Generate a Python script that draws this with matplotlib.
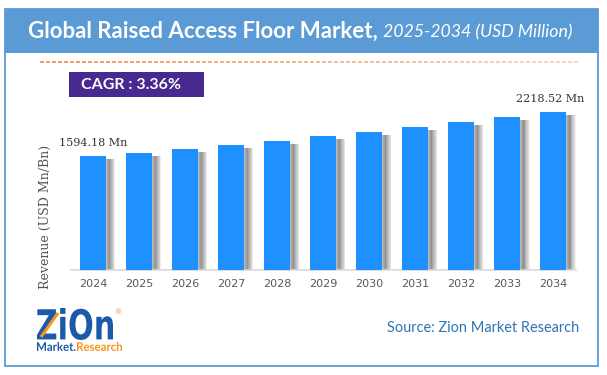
import matplotlib
matplotlib.use('Agg')
import matplotlib.pyplot as plt
from matplotlib.patches import Rectangle, PathPatch
from matplotlib.textpath import TextPath, TextToPath
from matplotlib.font_manager import FontProperties
from matplotlib.transforms import Affine2D
import numpy as np

# ---- data ----
years = ['2024', '2025', '2026', '2027', '2028', '2029', '2030', '2031', '2032', '2033', '2034']
revenue = [1594.18, 1638, 1699, 1755, 1816, 1887, 1943, 2009, 2080, 2150, 2218.52]
first_label = '1594.18 Mn'
last_label = '2218.52 Mn'
title_main = 'Global Raised Access Floor Market,'
title_sub = '2025-2034 (USD Million)'
cagr_text = 'CAGR : 3.36%'
ylabel_text = 'Revenue (USD Mn/Bn)'
source_text = 'Source: Zion Market Research'

W, H = 607, 375
fig = plt.figure(figsize=(W / 100, H / 100), dpi=100)
fig.patch.set_facecolor('white')

bg = fig.add_axes([0, 0, 1, 1], zorder=0)
bg.set_xlim(0, W)
bg.set_ylim(H, 0)
bg.axis('off')

frame_col = '#5B9BD5'
bg.add_patch(Rectangle((5, 8.5), 593, 44.5, facecolor=frame_col, edgecolor='none'))
bg.add_patch(Rectangle((5, 8.5), 593, 357, facecolor='none', edgecolor=frame_col, lw=1.3))

fig.canvas.draw()
renderer = fig.canvas.get_renderer()


def fit_width(t, width):
    bb = t.get_window_extent(renderer)
    t.set_fontsize(t.get_fontsize() * width / bb.width)
    return t


# title
t1 = bg.text(28, 31, title_main, fontsize=15, fontweight='bold', color='white',
             family='Lato', va='center', ha='left')
fit_width(t1, 379 - 28)
bb = t1.get_window_extent(renderer)
t2 = bg.text(bb.x1 + 5, 32, title_sub, fontsize=12, style='italic', color='white',
             family='Lato', va='center', ha='left')
fit_width(t2, 572 - (bb.x1 + 5))

# dashed gradient line
xs = np.arange(40, 580, 6.0)
c0 = np.array([0xED, 0x7D, 0x31]) / 255
c1 = np.array([0xF8, 0xCB, 0xAD]) / 255
for k, x0 in enumerate(xs):
    f = k / (len(xs) - 1)
    col = c0 * (1 - f) + c1 * f
    bg.plot([x0, min(x0 + 3.5, 580)], [62, 62], color=col, lw=1.1, solid_capstyle='butt')

# CAGR box
bg.add_patch(Rectangle((69, 72), 135, 25, facecolor='#48298F', edgecolor='none'))
tc = bg.text(81, 85, cagr_text, fontsize=10, fontweight='bold', color='white',
             family='Lato', va='center', ha='left')
fit_width(tc, 100)

# y label
bg.text(45, 217, ylabel_text, rotation=90, fontsize=9, color='#555555',
        family='DejaVu Serif', va='center', ha='center')

# source
ts = bg.text(579, 328, source_text, fontsize=11, color='#2E74B5', family='Lato',
             va='center', ha='right')
fit_width(ts, 579 - 387)

# logo (text drawn as paths fitted into boxes)
def boxed_text(parts, x0, y0, x1, y1, fp):
    t2p = TextToPath()
    full = ''.join(p[0] for p in parts)
    tp_full = TextPath((0, 0), full, size=10, prop=fp)
    ext = tp_full.get_extents()
    sx = (x1 - x0) / ext.width
    sy = (y1 - y0) / ext.height
    tr = Affine2D().translate(-ext.x0, -ext.y0).scale(sx, -sy).translate(x0, y1)
    off = 0.0
    for s, col in parts:
        tp = TextPath((off, 0), s, size=10, prop=fp)
        bg.add_patch(PathPatch(tr.transform_path(tp), facecolor=col, edgecolor='none'))
        w, _, _ = t2p.get_text_width_height_descent(s, fp.copy().set_size(10) or fp, ismath=False)
        off += w

fp_logo = FontProperties(family='DejaVu Sans', weight='bold', size=10)
boxed_text([('ZiOn', '#1A5AA6')], 37, 308, 113, 340, fp_logo)
bg.plot([41, 58], [337, 313], color='#F7941D', lw=2.2, solid_capstyle='butt')
fp_mr = FontProperties(family='Lato', weight='bold', size=10)
boxed_text([('Market.', '#1A5AA6'), ('Research', '#F7941D')], 37, 342, 122, 351, fp_mr)
bg.text(119, 312, '®', fontsize=5, color='#F7941D', va='center', ha='center')

# ---- bar chart ----
left, right = 70.7, 575.7
base, top = 269.5, 100.0
ax = fig.add_axes([left / W, (H - base) / H, (right - left) / W, (base - top) / H], zorder=2)
ax.patch.set_alpha(0)
ax.set_xlim(-0.485, len(years) - 1 + 0.485)
ax.set_ylim(0, 2390)

x = np.arange(len(years))
bw = 26 / 46
# soft shadows to the right of each bar
n_strip = 12
sw = 10 / 46
prof = np.interp(np.linspace(0, 1, n_strip), [0, 0.3, 1.0], [0.72, 0.55, 1.0])
for i, v in enumerate(revenue):
    for k in range(n_strip):
        g = prof[k]
        ax.add_patch(Rectangle((i + bw / 2 + k * sw / n_strip, 0), sw / n_strip * 1.05,
                               v - 40, facecolor=(g, g, g), edgecolor='none', zorder=1))
ax.bar(x, revenue, width=bw, color='#1E90FF', zorder=3)

ax.annotate(first_label, xy=(x[0], revenue[0]), xytext=(0, 9.5), textcoords='offset points',
            ha='center', va='center', fontsize=8, family='DejaVu Serif', color='#333333')
ax.annotate(last_label, xy=(x[-1], revenue[-1]), xytext=(-2, 9.5), textcoords='offset points',
            ha='center', va='center', fontsize=8, family='DejaVu Serif', color='#333333')

ax.set_xticks(x)
ax.set_xticklabels(years, fontsize=8, color='#595959', family='DejaVu Sans')
ax.tick_params(axis='x', length=0, pad=7)
ax.set_yticks([])
for s in ['top', 'left', 'right']:
    ax.spines[s].set_visible(False)
ax.spines['bottom'].set_color('#D9D9D9')
ax.spines['bottom'].set_linewidth(1.2)

fig.savefig('out.png', dpi=100, facecolor='white')
